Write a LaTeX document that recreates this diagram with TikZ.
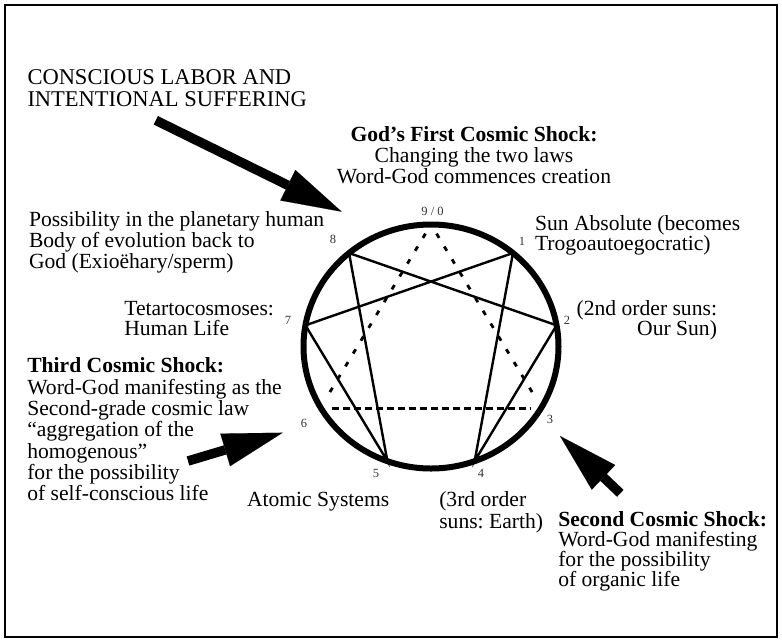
\documentclass[tikz,border=0pt]{standalone}
\usepackage{fontspec}
\setmainfont{Liberation Serif}
\usetikzlibrary{calc,arrows.meta}
\frenchspacing

\begin{document}
\begin{tikzpicture}[x=1pt,y=-1pt,
  txt/.style={inner sep=0pt, outer sep=0pt, font=\fontsize{21.6}{21.4}\selectfont},
  num/.style={inner sep=0pt, outer sep=0pt, font=\fontsize{12.5}{12.5}\selectfont, text=black!80},
  frame/.style={line width=2pt},
  ring/.style={line width=6pt},
  chord/.style={line width=2.4pt, line cap=round},
  triad/.style={line width=2.8pt, dash pattern=on 5pt off 10pt},
  triadbase/.style={line width=3pt, dash pattern=on 7pt off 4pt},
  shock/.style={line width=9.5pt, -{Triangle[length=60pt,width=34pt,line width=0.1pt]}},
]
\useasboundingbox (0,0) rectangle (782,641);
\draw[frame] (5,5) rectangle (776.5,636.5);

% the enneagram circle and its nine points
\coordinate (c) at (431,346.5);
\draw[ring] (c) ellipse [x radius=127.5, y radius=122];
\foreach \k in {0,...,8}{
  \coordinate (p\k) at ($(c)+({40*\k-90}:127.5 and 122)$);
}

% the hexad 1-4-2-8-5-7-1
\draw[chord] (p1) -- (p4) -- (p2) -- (p8) -- (p5) -- (p7) -- cycle;

% the triad 9-3-6, dashed
\coordinate (t9l) at ($(p0)!0.05!(p6)$);
\coordinate (t6) at ($(p0)!0.94!(p6)$);
\coordinate (t9r) at ($(p0)!0.05!(p3)$);
\coordinate (t3) at ($(p0)!0.94!(p3)$);
\coordinate (b6) at (331.7,408.3);
\coordinate (b3) at (530,408.3);
\draw[triad] (t9l) -- (t6);
\draw[triad] (t9r) -- (t3);
\draw[triadbase] (b6) -- (b3);

% point numbers
\node[num] (n0) at (432.5,211.5) {9 / 0};
\node[num] (n1) at (522,241.5) {1};
\node[num] (n2) at (567,320.5) {2};
\node[num] (n3) at (550,419) {3};
\node[num] (n4) at (481,473.5) {4};
\node[num] (n5) at (376,473.3) {5};
\node[num] (n6) at (304,423.3) {6};
\node[num] (n7) at (288,320.5) {7};
\node[num] (n8) at (333,239.5) {8};

% texts (each placed by the baseline of its last line)
\node[txt, font=\fontsize{22.5}{22}\selectfont, anchor=base west, align=left] (labor) at (27.5,106.8)
  {CONSCIOUS LABOR AND\\INTENTIONAL SUFFERING};
\node[txt, font=\fontsize{21.6}{21}\selectfont, anchor=base, align=center] (first) at (474,183.3)
  {\textbf{God’s First Cosmic Shock:}\\Changing the two laws\\Word-God commences creation};
\node[txt, font=\fontsize{21.6}{21.2}\selectfont, anchor=base west, align=left] (body) at (29,268.6)
  {Possibility in the planetary human\\Body of evolution back to\\God (Exioëhary/sperm)};
\node[txt, font=\fontsize{21.6}{19.3}\selectfont, anchor=base west, align=left] (sun) at (535,250.8)
  {Sun Absolute (becomes\\Trogoautoegocratic)};
\node[txt, font=\fontsize{21.6}{19}\selectfont, anchor=base east, align=right] (suns2) at (717,335.7)
  {(2nd order suns:\\Our Sun)};
\node[txt, font=\fontsize{21.6}{20}\selectfont, anchor=base west, align=left] (tetarto) at (124.3,335.5)
  {Tetartocosmoses:\\Human Life};
\node[txt, font=\fontsize{21.6}{21.35}\selectfont, anchor=base west, align=left] (third) at (27.3,500.8)
  {\textbf{Third Cosmic Shock:}\\Word-God manifesting as the\\Second-grade cosmic law\\“aggregation of the\\homogenous”\\for the possibility\\of self-conscious life};
\node[txt, anchor=base west] (atomic) at (247,506.5) {Atomic Systems};
\node[txt, font=\fontsize{21.6}{21.7}\selectfont, anchor=base west, align=left] (suns3) at (439.3,528.2)
  {(3rd order\\suns: Earth)};
\node[txt, font=\fontsize{21.6}{20.3}\selectfont, anchor=base west, align=left] (second) at (558.3,586.9)
  {\textbf{Second Cosmic Shock:}\\Word-God manifesting\\for the possibility\\of organic life};

% the three shocks
\coordinate (s1tail) at (155.8,120.3);
\coordinate (s1tip) at (341.7,211.7);
\coordinate (s3tail) at (188,461);
\coordinate (s3tip) at (282.7,432.7);
\coordinate (s2tail) at (620.3,493.3);
\coordinate (s2tip) at (560,436);
\draw[shock] (s1tail) -- (s1tip);
\draw[shock] (s3tail) -- (s3tip);
\draw[shock] (s2tail) -- (s2tip);
\end{tikzpicture}
\end{document}
